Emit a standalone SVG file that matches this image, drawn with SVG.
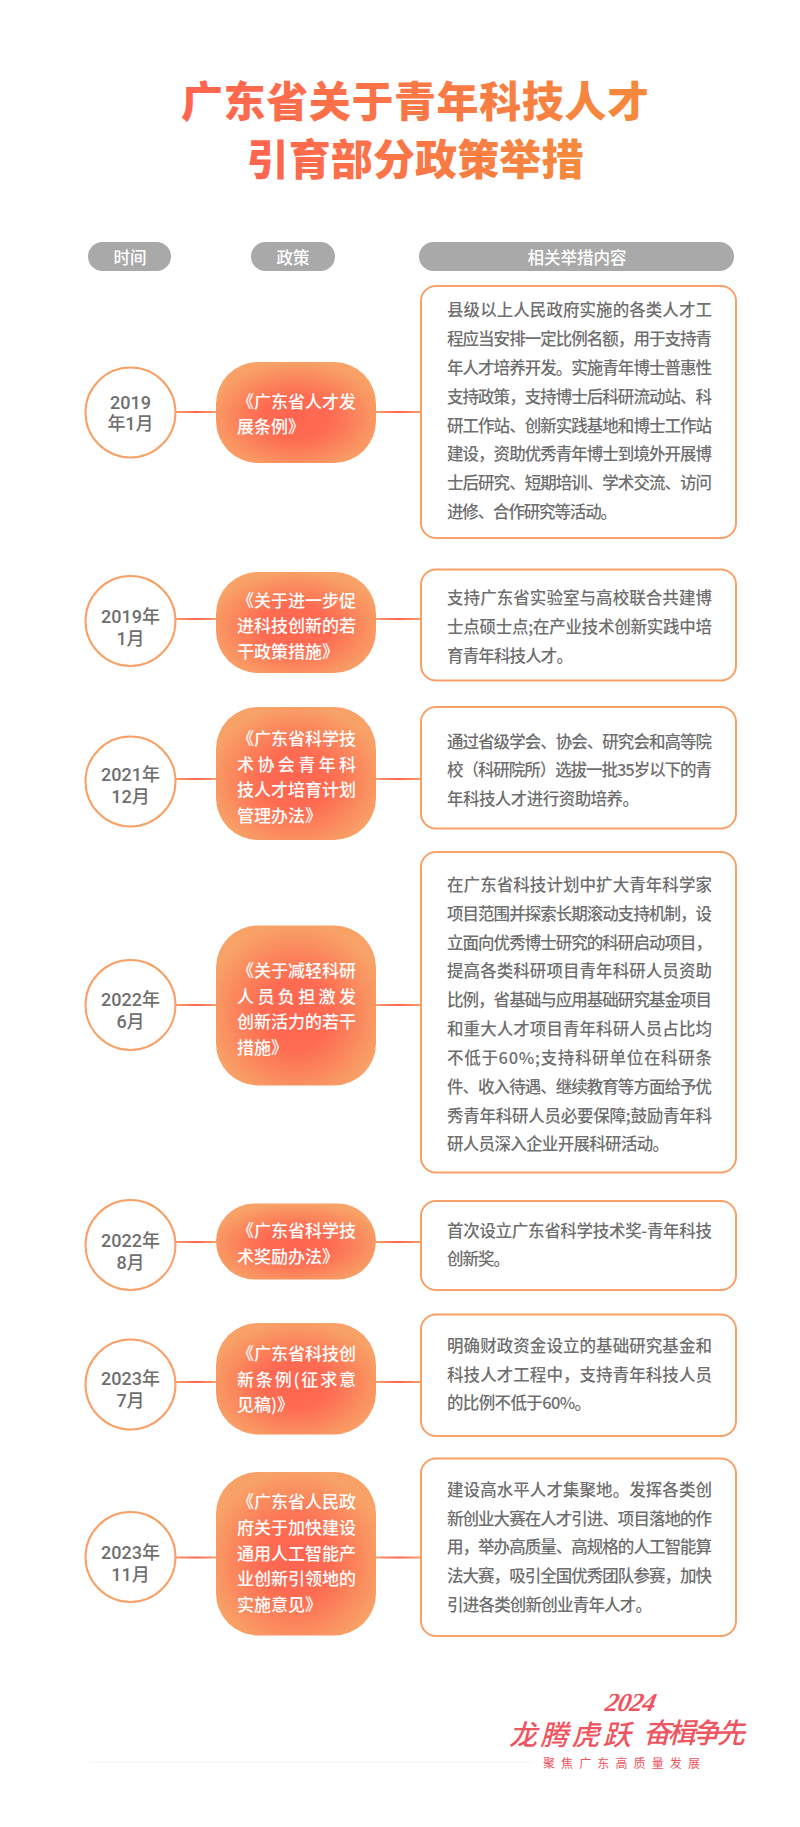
<svg xmlns="http://www.w3.org/2000/svg" width="800" height="1827" viewBox="0 0 800 1827">
<defs>
<linearGradient id="tg" x1="0" y1="0" x2="1" y2="0"><stop offset="0" stop-color="#ff6450"/><stop offset="1" stop-color="#f58a3c"/></linearGradient>
<linearGradient id="cg" x1="0" y1="0" x2="1" y2="0"><stop offset="0" stop-color="#f9a066"/><stop offset="0.5" stop-color="#ff6450"/><stop offset="1" stop-color="#f9a066"/></linearGradient>
<radialGradient id="pg" cx="0.5" cy="0.55" r="0.56"><stop offset="0" stop-color="#ff6450"/><stop offset="0.4" stop-color="#fe6c52"/><stop offset="1" stop-color="#f8a267"/></radialGradient>
</defs>
<style>
text{font-family:"Noto Sans CJK SC","Noto Sans",sans-serif;dominant-baseline:central}
.title{font-size:42px;font-weight:900;fill:url(#tg);text-anchor:middle}
.hp{fill:#a9a9a9}
.ht{font-size:16.5px;fill:#fff;text-anchor:middle;font-weight:500}
.c{fill:#fff;stroke:#f9a066;stroke-width:2}
.d{font-family:Roboto,"Noto Sans CJK SC",sans-serif;font-size:18px;font-weight:500;fill:#6f6f6f;text-anchor:middle}
.p{fill:url(#pg)}
.pt{font-size:17px;font-weight:500;fill:#fff}
.b{fill:#fff;stroke:#f9a066;stroke-width:2}
.bt{font-size:16.5px;font-weight:500;fill:#6f6f6f}
.lg{fill:#ee5560}
.cn{fill:url(#cg)}
</style>
<rect width="800" height="1827" fill="#fff"/>
<g id="title">
<text class="title" x="415" y="98" textLength="468">广东省关于青年科技人才</text>
<text class="title" x="415" y="156" textLength="337">引育部分政策举措</text>
</g>
<g id="headers">
<g id="h1"><rect class="hp" x="88" y="242" width="83" height="29" rx="14.5"/><text class="ht" x="130" y="256.5">时间</text></g>
<g id="h2"><rect class="hp" x="251" y="242" width="84" height="29" rx="14.5"/><text class="ht" x="293" y="256.5">政策</text></g>
<g id="h3"><rect class="hp" x="419" y="242" width="315" height="29" rx="14.5"/><text class="ht" x="577" y="256.5">相关举措内容</text></g>
</g>
<g id="connectors">
<rect class="cn" x="176" y="411" width="40" height="2"/><rect class="cn" x="376" y="411" width="45" height="2"/>
<rect class="cn" x="176" y="618" width="40" height="2"/><rect class="cn" x="376" y="618" width="45" height="2"/>
<rect class="cn" x="176" y="778" width="40" height="2"/><rect class="cn" x="376" y="778" width="45" height="2"/>
<rect class="cn" x="176" y="1004" width="40" height="2"/><rect class="cn" x="376" y="1004" width="45" height="2"/>
<rect class="cn" x="176" y="1241" width="40" height="2"/><rect class="cn" x="376" y="1241" width="45" height="2"/>
<rect class="cn" x="176" y="1381" width="40" height="2"/><rect class="cn" x="376" y="1381" width="45" height="2"/>
<rect class="cn" x="176" y="1556.5" width="40" height="2"/><rect class="cn" x="376" y="1556.5" width="45" height="2"/>
</g>
<g id="row1">
<g id="date1"><circle class="c" cx="130.5" cy="412.5" r="45"/><text class="d" x="130.5" y="402">2019</text><text class="d" x="130.5" y="423.5">年1月</text></g>
<g id="policy1"><rect class="p" x="216" y="362" width="160" height="101" rx="42"/>
<text class="pt" x="237" y="400" textLength="119">《广东省人才发</text><text class="pt" x="237" y="425">展条例》</text></g>
<g id="box1"><rect class="b" x="421" y="286" width="315" height="252" rx="15"/>
<text class="bt" x="447" y="309" textLength="265">县级以上人民政府实施的各类人才工</text>
<text class="bt" x="447" y="338" textLength="265">程应当安排一定比例名额，用于支持青</text>
<text class="bt" x="447" y="367" textLength="265">年人才培养开发。实施青年博士普惠性</text>
<text class="bt" x="447" y="395.5" textLength="265">支持政策，支持博士后科研流动站、科</text>
<text class="bt" x="447" y="424.5" textLength="265">研工作站、创新实践基地和博士工作站</text>
<text class="bt" x="447" y="453" textLength="265">建设，资助优秀青年博士到境外开展博</text>
<text class="bt" x="447" y="482" textLength="265">士后研究、短期培训、学术交流、访问</text>
<text class="bt" x="447" y="510.5" textLength="170">进修、合作研究等活动。</text></g>
</g>
<g id="row2">
<g id="date2"><circle class="c" cx="130.5" cy="621" r="45"/><text class="d" x="130.5" y="616">2019年</text><text class="d" x="130.5" y="638">1月</text></g>
<g id="policy2"><rect class="p" x="216" y="572" width="160" height="101" rx="42"/>
<text class="pt" x="237" y="599" textLength="119">《关于进一步促</text><text class="pt" x="237" y="624.5" textLength="119">进科技创新的若</text><text class="pt" x="237" y="650">干政策措施》</text></g>
<g id="box2"><rect class="b" x="421" y="569.5" width="315" height="111" rx="15"/>
<text class="bt" x="447" y="597" textLength="265">支持广东省实验室与高校联合共建博</text>
<text class="bt" x="447" y="625.7" textLength="265">士点硕士点;在产业技术创新实践中培</text>
<text class="bt" x="447" y="654.6" textLength="126">育青年科技人才。</text></g>
</g>
<g id="row3">
<g id="date3"><circle class="c" cx="130.5" cy="781.5" r="45"/><text class="d" x="130.5" y="774">2021年</text><text class="d" x="130.5" y="796">12月</text></g>
<g id="policy3"><rect class="p" x="216" y="707" width="160" height="133" rx="42"/>
<text class="pt" x="237" y="737.5" textLength="119">《广东省科学技</text><text class="pt" x="237" y="763" textLength="119">术协会青年科</text><text class="pt" x="237" y="788.5" textLength="119">技人才培育计划</text><text class="pt" x="237" y="814">管理办法》</text></g>
<g id="box3"><rect class="b" x="421" y="707" width="315" height="121.5" rx="15"/>
<text class="bt" x="447" y="741" textLength="265">通过省级学会、协会、研究会和高等院</text>
<text class="bt" x="447" y="769" textLength="265">校（科研院所）选拔一批35岁以下的青</text>
<text class="bt" x="447" y="798" textLength="192">年科技人才进行资助培养。</text></g>
</g>
<g id="row4">
<g id="date4"><circle class="c" cx="130.5" cy="1005" r="45"/><text class="d" x="130.5" y="999.5">2022年</text><text class="d" x="130.5" y="1021">6月</text></g>
<g id="policy4"><rect class="p" x="216" y="925.5" width="160" height="160" rx="42"/>
<text class="pt" x="237" y="969.5" textLength="119">《关于减轻科研</text><text class="pt" x="237" y="995" textLength="119">人员负担激发</text><text class="pt" x="237" y="1020.5" textLength="119">创新活力的若干</text><text class="pt" x="237" y="1046">措施》</text></g>
<g id="box4"><rect class="b" x="421" y="852" width="315" height="320.5" rx="15"/>
<text class="bt" x="447" y="884.4" textLength="265">在广东省科技计划中扩大青年科学家</text>
<text class="bt" x="447" y="913" textLength="265">项目范围并探索长期滚动支持机制，设</text>
<text class="bt" x="447" y="942" textLength="265">立面向优秀博士研究的科研启动项目，</text>
<text class="bt" x="447" y="970.4" textLength="265">提高各类科研项目青年科研人员资助</text>
<text class="bt" x="447" y="999.4" textLength="265">比例，省基础与应用基础研究基金项目</text>
<text class="bt" x="447" y="1028" textLength="265">和重大人才项目青年科研人员占比均</text>
<text class="bt" x="447" y="1057" textLength="265">不低于60%;支持科研单位在科研条</text>
<text class="bt" x="447" y="1085.5" textLength="265">件、收入待遇、继续教育等方面给予优</text>
<text class="bt" x="447" y="1114.5" textLength="265">秀青年科研人员必要保障;鼓励青年科</text>
<text class="bt" x="447" y="1143" textLength="222">研人员深入企业开展科研活动。</text></g>
</g>
<g id="row5">
<g id="date5"><circle class="c" cx="130.5" cy="1245" r="45"/><text class="d" x="130.5" y="1240">2022年</text><text class="d" x="130.5" y="1262">8月</text></g>
<g id="policy5"><rect class="p" x="216" y="1203.5" width="160" height="76" rx="38"/>
<text class="pt" x="237" y="1229.5" textLength="119">《广东省科学技</text><text class="pt" x="237" y="1255">术奖励办法》</text></g>
<g id="box5"><rect class="b" x="421" y="1201" width="315" height="89" rx="15"/>
<text class="bt" x="447" y="1229.5" textLength="265">首次设立广东省科学技术奖-青年科技</text>
<text class="bt" x="447" y="1258.4" textLength="63">创新奖。</text></g>
</g>
<g id="row6">
<g id="date6"><circle class="c" cx="130.5" cy="1384.5" r="45"/><text class="d" x="130.5" y="1378.5">2023年</text><text class="d" x="130.5" y="1400">7月</text></g>
<g id="policy6"><rect class="p" x="216" y="1323" width="160" height="111.5" rx="42"/>
<text class="pt" x="237" y="1352.5" textLength="119">《广东省科技创</text><text class="pt" x="237" y="1378" textLength="119">新条例(征求意</text><text class="pt" x="237" y="1403.5">见稿)》</text></g>
<g id="box6"><rect class="b" x="421" y="1314.5" width="315" height="121.5" rx="15"/>
<text class="bt" x="447" y="1344.6" textLength="265">明确财政资金设立的基础研究基金和</text>
<text class="bt" x="447" y="1373.5" textLength="265">科技人才工程中，支持青年科技人员</text>
<text class="bt" x="447" y="1402.4" textLength="144">的比例不低于60%。</text></g>
</g>
<g id="row7">
<g id="date7"><circle class="c" cx="130.5" cy="1557" r="45"/><text class="d" x="130.5" y="1552.5">2023年</text><text class="d" x="130.5" y="1574">11月</text></g>
<g id="policy7"><rect class="p" x="216" y="1472" width="160" height="163.5" rx="42"/>
<text class="pt" x="237" y="1500.5" textLength="119">《广东省人民政</text><text class="pt" x="237" y="1526" textLength="119">府关于加快建设</text><text class="pt" x="237" y="1552" textLength="119">通用人工智能产</text><text class="pt" x="237" y="1577" textLength="119">业创新引领地的</text><text class="pt" x="237" y="1603">实施意见》</text></g>
<g id="box7"><rect class="b" x="421" y="1458.5" width="315" height="177.5" rx="15"/>
<text class="bt" x="447" y="1488.6" textLength="265">建设高水平人才集聚地。发挥各类创</text>
<text class="bt" x="447" y="1517.5" textLength="265">新创业大赛在人才引进、项目落地的作</text>
<text class="bt" x="447" y="1546.4" textLength="265">用，举办高质量、高规格的人工智能算</text>
<text class="bt" x="447" y="1575.3" textLength="265">法大赛，吸引全国优秀团队参赛，加快</text>
<text class="bt" x="447" y="1604" textLength="205">引进各类创新创业青年人才。</text></g>
</g>
<g id="logo">
<rect x="89" y="1762" width="444" height="1" fill="#fdf3f3"/>
<text class="lg" transform="translate(606 1703) skewX(-12)" font-size="26" font-weight="700" style="font-family:'Liberation Serif',serif;font-style:italic" textLength="50">2024</text>
<text class="lg" transform="translate(512 1733) skewX(-14)" font-size="28" font-weight="500" textLength="122">龙腾虎跃</text>
<text class="lg" transform="translate(646 1731) skewX(-14)" font-size="28" font-weight="500" textLength="102">奋楫争先</text>
<text class="lg" x="543" y="1762" font-size="12" textLength="157">聚焦广东高质量发展</text>
</g>
</svg>
